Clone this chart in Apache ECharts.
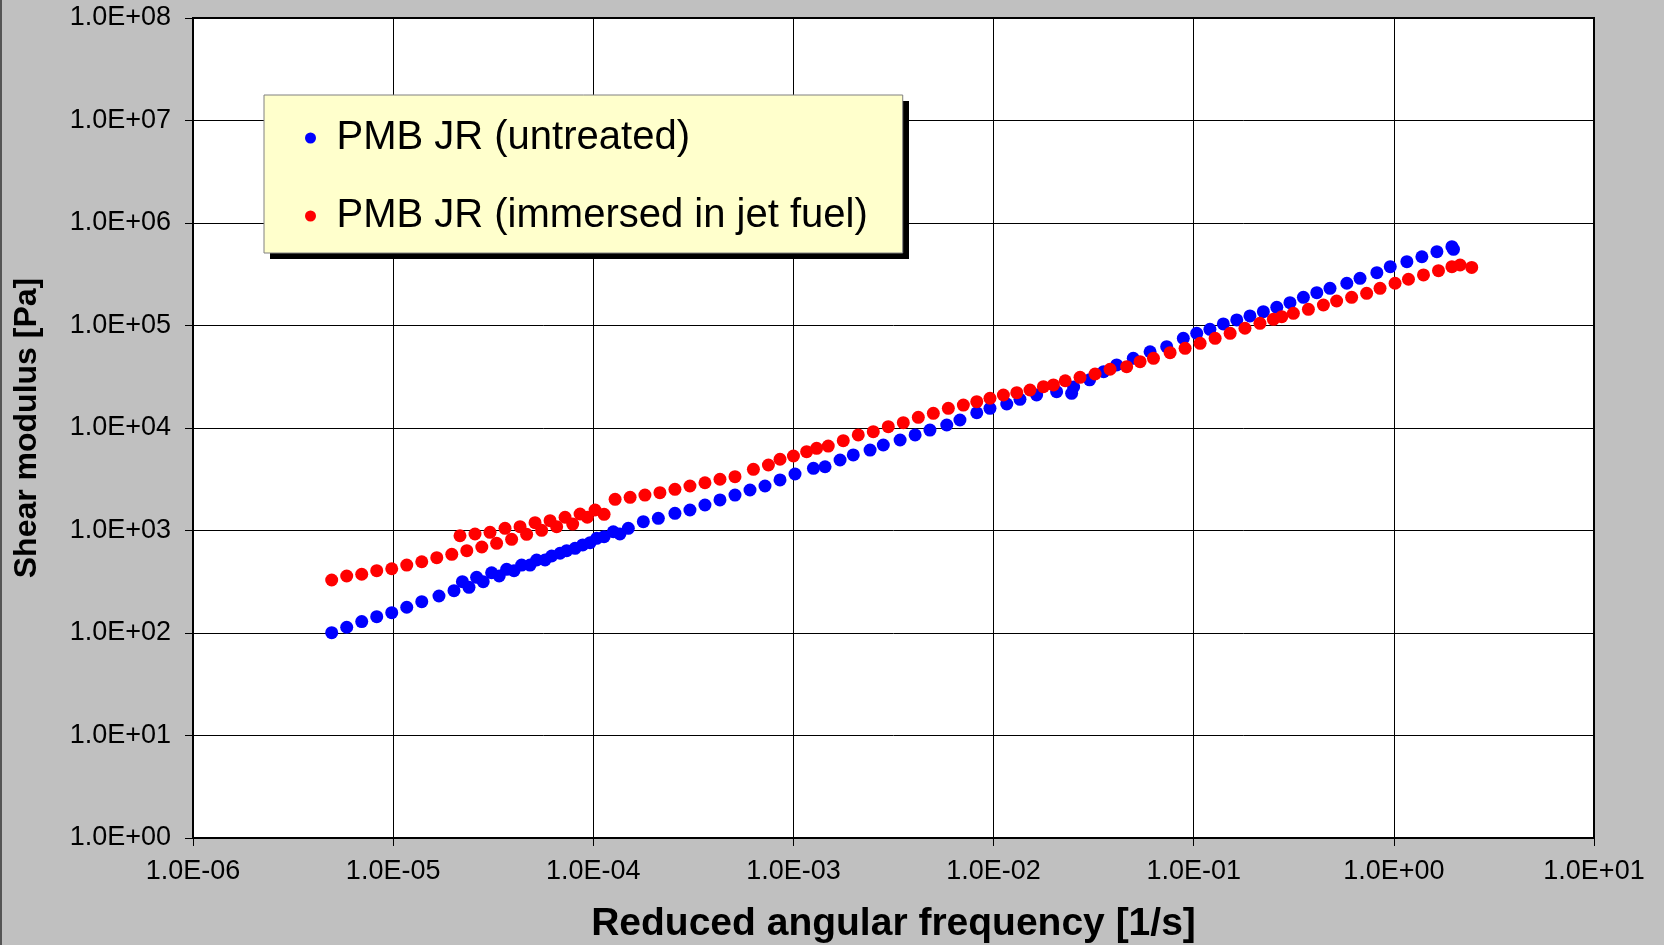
<!DOCTYPE html>
<html>
<head>
<meta charset="utf-8">
<script src="https://cdn.jsdelivr.net/npm/echarts@6/dist/echarts.min.js"></script>
<style>
html,body{margin:0;padding:0;background:#c0c0c0;}
#chart{width:1664px;height:945px;}
</style>
</head>
<body>
<div id="chart"></div>
<script>
// Series names
const seriesNames = ['PMB JR (untreated)', 'PMB JR (immersed in jet fuel)'];

// PMB JR (untreated): log10 of reduced angular frequency [1/s] and log10 of shear modulus [Pa]
const untreatedLogFreq = [
  -5.307,-5.232,-5.157,-5.082,-5.007,-4.932,-4.857,-4.771,-4.696,-4.654,-4.621,-4.583,-4.55,-4.508,-4.47,
  -4.433,-4.396,-4.358,-4.316,-4.283,-4.241,-4.208,-4.166,-4.133,-4.091,-4.053,-4.016,-3.983,-3.946,-3.9,
  -3.867,-3.825,-3.75,-3.675,-3.592,-3.517,-3.442,-3.367,-3.292,-3.217,-3.142,-3.067,-2.992,-2.9,-2.842,
  -2.767,-2.701,-2.617,-2.551,-2.467,-2.392,-2.318,-2.234,-2.168,-2.084,-2.018,-1.934,-1.868,-1.785,-1.685,
  -1.61,-1.6,-1.52,-1.45,-1.385,-1.302,-1.218,-1.135,-1.052,-0.985,-0.919,-0.852,-0.785,-0.719,-0.652,
  -0.585,-0.519,-0.452,-0.385,-0.319,-0.235,-0.169,-0.085,-0.018,0.065,0.14,0.215,0.29,0.298
];
const untreatedLogModulus = [
  2.003,2.056,2.111,2.159,2.198,2.251,2.306,2.361,2.413,2.501,2.446,2.543,2.501,2.588,2.556,
  2.621,2.608,2.663,2.663,2.712,2.712,2.751,2.778,2.803,2.826,2.859,2.881,2.924,2.94,2.988,
  2.966,3.021,3.086,3.119,3.168,3.2,3.249,3.298,3.346,3.395,3.434,3.493,3.551,3.607,3.622,
  3.688,3.737,3.785,3.834,3.883,3.932,3.98,4.029,4.078,4.149,4.192,4.234,4.28,4.322,4.354,
  4.338,4.40,4.47,4.55,4.615,4.68,4.744,4.793,4.875,4.924,4.963,5.015,5.054,5.093,5.135,
  5.177,5.223,5.275,5.32,5.363,5.412,5.46,5.515,5.574,5.623,5.671,5.72,5.769,5.743
];

// PMB JR (immersed in jet fuel)
const jetFuelLogFreq = [
  -5.307,-5.232,-5.157,-5.082,-5.007,-4.932,-4.857,-4.782,-4.707,-4.632,-4.557,-4.483,-4.408,-4.333,-4.258,
  -4.183,-4.103,-4.03,-3.946,
  -4.666,-4.591,-4.516,-4.441,-4.366,-4.291,-4.216,-4.141,-4.066,-3.991,
  -3.891,-3.816,-3.742,-3.667,-3.592,-3.517,-3.442,-3.367,-3.292,-3.2,-3.125,-3.067,-3.0,-2.934,-2.884,
  -2.826,-2.751,-2.676,-2.601,-2.526,-2.451,-2.376,-2.301,-2.226,-2.151,-2.084,-2.018,-1.951,-1.884,-1.818,
  -1.751,-1.701,-1.642,-1.568,-1.493,-1.418,-1.335,-1.268,-1.201,-1.118,-1.043,-0.968,-0.893,-0.818,-0.744,
  -0.669,-0.602,-0.56,-0.502,-0.427,-0.352,-0.286,-0.211,-0.136,-0.069,0.006,0.073,0.148,0.223,0.29,
  0.331,0.389
];
const jetFuelLogModulus = [
  2.517,2.556,2.573,2.608,2.627,2.663,2.695,2.735,2.768,2.803,2.839,2.875,2.914,2.963,3.002,
  3.037,3.063,3.129,3.158,
  2.949,2.966,2.982,3.021,3.037,3.076,3.096,3.129,3.161,3.2,
  3.304,3.324,3.346,3.369,3.402,3.434,3.466,3.5,3.525,3.597,3.639,3.695,3.727,3.769,3.802,
  3.824,3.876,3.932,3.964,4.013,4.052,4.104,4.143,4.192,4.224,4.257,4.29,4.322,4.345,4.371,
  4.403,4.42,4.461,4.494,4.527,4.573,4.598,4.647,4.68,4.735,4.777,4.826,4.875,4.924,4.973,
  5.021,5.06,5.086,5.119,5.158,5.2,5.239,5.275,5.314,5.363,5.412,5.451,5.493,5.535,5.574,
  5.59,5.567
];

// Tick labels
const xTickLabels = ['1.0E-06','1.0E-05','1.0E-04','1.0E-03','1.0E-02','1.0E-01','1.0E+00','1.0E+01'];
const yTickLabels = ['1.0E+00','1.0E+01','1.0E+02','1.0E+03','1.0E+04','1.0E+05','1.0E+06','1.0E+07','1.0E+08'];

function toPoints(lx, ly) {
  return lx.map((v, i) => [Math.pow(10, v), Math.pow(10, ly[i])]);
}

const FONT = '"Liberation Sans", Arial, sans-serif';
const chart = echarts.init(document.getElementById('chart'), null, {renderer: 'canvas'});
chart.setOption({
  backgroundColor: '#c0c0c0',
  animation: false,
  textStyle: {fontFamily: FONT},
  grid: {
    left: 193, top: 18, right: 70, bottom: 107,
    containLabel: false,
    outerBoundsMode: 'none',
    show: true, backgroundColor: '#ffffff', borderColor: '#000000', borderWidth: 2
  },
  legend: {
    orient: 'vertical',
    left: 264, top: 95,
    data: seriesNames,
    icon: 'circle',
    itemWidth: 42, itemHeight: 11,
    itemGap: 38,
    padding: [23, 35, 17, 41],
    backgroundColor: '#ffffcc',
    borderColor: '#808080',
    borderWidth: 1,
    textStyle: {fontFamily: FONT, fontSize: 40, lineHeight: 38, color: '#000000'}
  },
  xAxis: {
    type: 'log', logBase: 10, min: 1e-6, max: 1e1,
    name: 'Reduced angular frequency [1/s]',
    nameLocation: 'middle', nameGap: 67,
    nameTextStyle: {fontFamily: FONT, fontSize: 39, fontWeight: 'bold', color: '#000000'},
    axisLine: {show: true, onZero: false, lineStyle: {color: '#000000', width: 2}},
    axisTick: {show: true, length: 8, lineStyle: {color: '#000000', width: 1}},
    axisLabel: {
      fontFamily: FONT, fontSize: 27, color: '#000000', margin: 20,
      formatter: v => xTickLabels[Math.round(Math.log10(v)) + 6]
    },
    splitLine: {show: true, lineStyle: {color: '#000000', width: 1}},
    minorTick: {show: false}
  },
  yAxis: {
    type: 'log', logBase: 10, min: 1, max: 1e8,
    name: 'Shear modulus [Pa]',
    nameLocation: 'middle', nameGap: 150,
    nameTextStyle: {fontFamily: FONT, fontSize: 32, fontWeight: 'bold', color: '#000000'},
    axisLine: {show: true, onZero: false, lineStyle: {color: '#000000', width: 2}},
    axisTick: {show: true, length: 8, lineStyle: {color: '#000000', width: 1}},
    axisLabel: {
      fontFamily: FONT, fontSize: 27, color: '#000000', margin: 22,
      formatter: v => yTickLabels[Math.round(Math.log10(v))]
    },
    splitLine: {show: true, lineStyle: {color: '#000000', width: 1}}
  },
  graphic: [
    {
      type: 'line', silent: true,
      shape: {x1: 1, y1: 0, x2: 1, y2: 945},
      style: {stroke: '#555555', lineWidth: 2}
    },
    {
      type: 'rect', silent: true, z: 3,
      shape: {x: 270, y: 101, width: 639, height: 158},
      style: {fill: '#000000'}
    }
  ],
  series: [
    {
      name: seriesNames[0], type: 'scatter', symbol: 'circle', symbolSize: 13,
      itemStyle: {color: '#0000ff', opacity: 1},
      data: toPoints(untreatedLogFreq, untreatedLogModulus)
    },
    {
      name: seriesNames[1], type: 'scatter', symbol: 'circle', symbolSize: 13,
      itemStyle: {color: '#ff0000', opacity: 1},
      data: toPoints(jetFuelLogFreq, jetFuelLogModulus)
    }
  ]
});
</script>
</body>
</html>
